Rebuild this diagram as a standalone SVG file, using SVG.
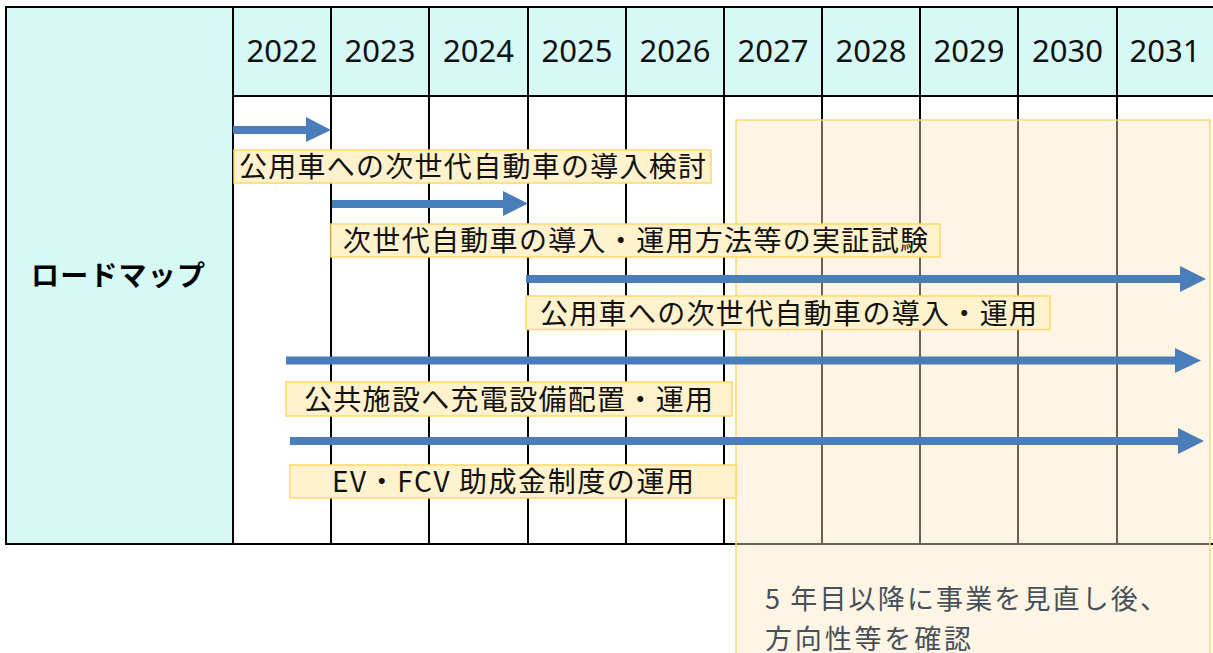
<svg xmlns="http://www.w3.org/2000/svg" width="1213" height="653" viewBox="0 0 1213 653">
<style>
.grid{stroke:#000;stroke-width:2;fill:none}
.hdr{fill:#D6F9F5}
.yr{font-family:"Noto Sans","Noto Sans CJK JP",sans-serif;font-size:31px;fill:#111;text-anchor:middle}
.lbl{fill:#FFF2CC;stroke:#FFD966;stroke-width:1.5}
.lt{font-family:"Noto Sans CJK JP","Noto Sans",sans-serif;font-size:28px;fill:#111}
.arr{fill:#4A7EBA}
.note{font-family:"Noto Sans CJK JP","Noto Sans",sans-serif;font-size:27px;fill:#46505B}
</style>
<rect width="1213" height="653" fill="#fff"/>
<g id="table">
<rect class="hdr" x="6" y="7" width="227" height="537"/>
<rect class="hdr" x="233" y="7" width="985" height="89"/>
<path class="grid" d="M1220 7H6V544H1220M233 96H1220M233 7V544M331 7V544M429 7V544M528 7V544M626 7V544M724 7V544M822 7V544M920 7V544M1018 7V544M1117 7V544"/>
<text class="yr" x="282" y="62" textLength="71">2022</text>
<text class="yr" x="380" y="62" textLength="71">2023</text>
<text class="yr" x="478.5" y="62" textLength="71">2024</text>
<text class="yr" x="577" y="62" textLength="71">2025</text>
<text class="yr" x="675" y="62" textLength="71">2026</text>
<text class="yr" x="773" y="62" textLength="71">2027</text>
<text class="yr" x="871" y="62" textLength="71">2028</text>
<text class="yr" x="969" y="62" textLength="71">2029</text>
<text class="yr" x="1067.5" y="62" textLength="71">2030</text>
<text class="yr" x="1165" y="62" textLength="71">2031</text>
<text x="31" y="286" font-family="'Noto Sans CJK JP','Noto Sans',sans-serif" font-size="28" font-weight="bold" fill="#000" textLength="174">ロードマップ</text>
</g>
<g id="review-period">
<rect x="736" y="120" width="474" height="560" fill="#FFE7BE" fill-opacity="0.42" stroke="#FFD966" stroke-width="1.5"/>
<text class="note" x="765" y="609" textLength="402">5 年目以降に事業を見直し後、</text>
<text class="note" x="765" y="649" textLength="206">方向性等を確認</text>
</g>
<g id="connectors">
<polygon class="arr" points="233,126 306,126 306,117 331,130 306,142 306,134 233,134"/>
<polygon class="arr" points="332,200 503,200 503,191 528,203.5 503,216 503,208 332,208"/>
<polygon class="arr" points="526,275 1180,275 1180,266 1206,279 1180,292 1180,283 526,283"/>
<polygon class="arr" points="286,356.5 1175,356.5 1175,348 1201,360.5 1175,373 1175,364.5 286,364.5"/>
<polygon class="arr" points="290,437 1178,437 1178,428 1204,441 1178,454 1178,445 290,445"/>
</g>
<g id="node1">
<rect class="lbl" x="234" y="150" width="477" height="33"/>
<text class="lt" x="239" y="177" textLength="467">公用車への次世代自動車の導入検討</text>
</g>
<g id="node2">
<rect class="lbl" x="331" y="224" width="609" height="33"/>
<text class="lt" x="343" y="251" textLength="585">次世代自動車の導入・運用方法等の実証試験</text>
</g>
<g id="node3">
<rect class="lbl" x="526" y="296" width="524" height="33.5"/>
<text class="lt" x="540" y="323.5" textLength="497">公用車への次世代自動車の導入・運用</text>
</g>
<g id="node4">
<rect class="lbl" x="286" y="382" width="446" height="34"/>
<text class="lt" x="304" y="409.5" textLength="409">公共施設へ充電設備配置・運用</text>
</g>
<g id="node5">
<rect class="lbl" x="290" y="465" width="446" height="33"/>
<text class="lt" x="332" y="492" textLength="362">EV・FCV 助成金制度の運用</text>
</g>
</svg>
